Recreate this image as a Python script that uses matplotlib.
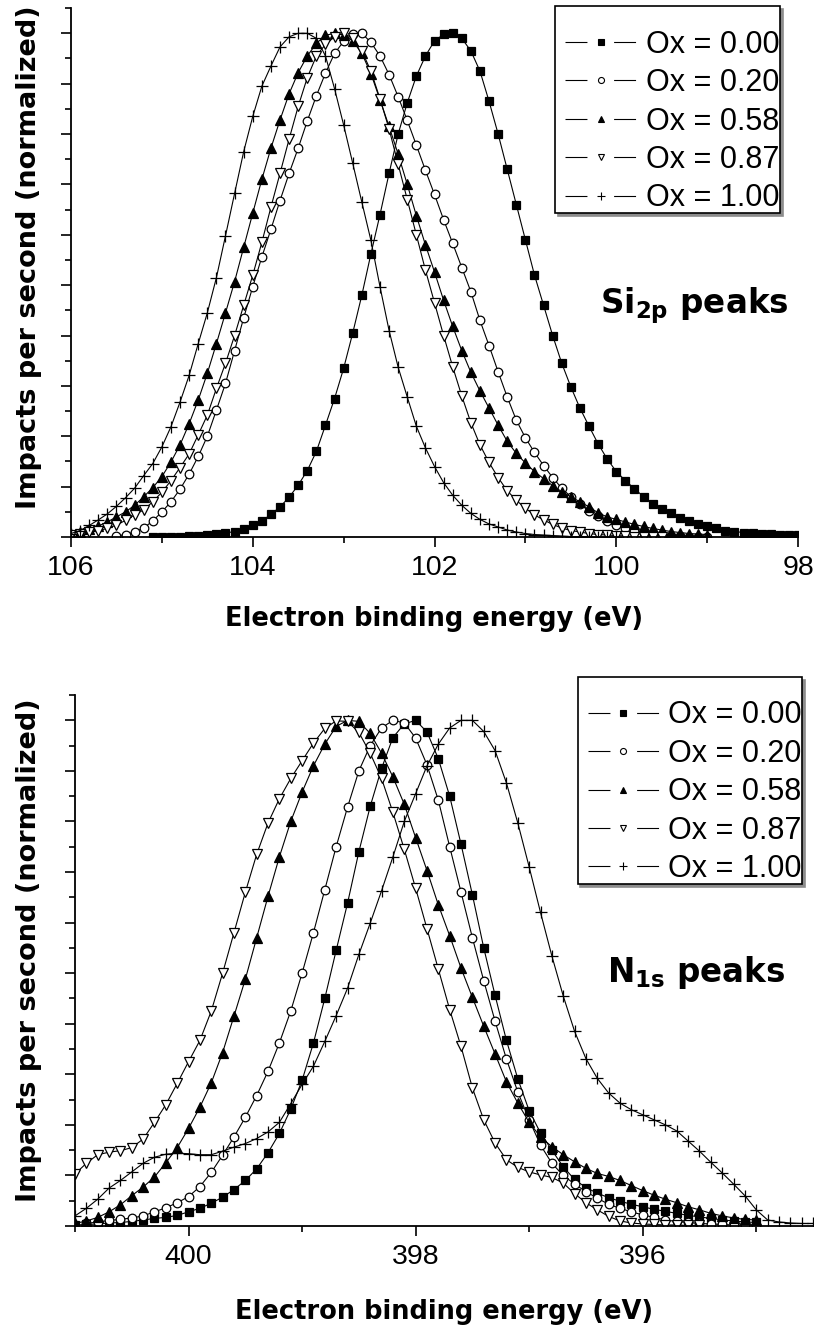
import numpy as np
import matplotlib.pyplot as plt
from matplotlib.lines import Line2D
from matplotlib.ticker import MultipleLocator

plt.rcParams['font.family'] = ['Liberation Sans', 'DejaVu Sans']
plt.rcParams['mathtext.fontset'] = 'dejavusans'

labels = ['Ox = 0.00', 'Ox = 0.20', 'Ox = 0.58', 'Ox = 0.87', 'Ox = 1.00']
markers = ['s', 'o', '^', 'v', '+']
faces = ['black', 'white', 'black', 'white', 'black']
msizes = [6, 6.2, 7, 7, 8]

# Si 2p spectra, 0.1 eV steps going down from the start energy
si_start = [105.1, 105.5, 106.0, 106.0, 106.0]
si_ox000 = [0.0, 0.0, 0.001, 0.001, 0.002, 0.003, 0.004, 0.006, 0.008, 0.011,
            0.016, 0.023, 0.032, 0.045, 0.06, 0.079, 0.103, 0.132, 0.17, 0.222,
            0.275, 0.335, 0.405, 0.48, 0.562, 0.64, 0.722, 0.8, 0.862, 0.915,
            0.955, 0.985, 0.998, 1.0, 0.99, 0.965, 0.925, 0.865, 0.80, 0.73,
            0.66, 0.59, 0.52, 0.46, 0.40, 0.345, 0.298, 0.256, 0.22, 0.185,
            0.155, 0.13, 0.112, 0.096, 0.08, 0.066, 0.056, 0.047, 0.038, 0.031,
            0.026, 0.021, 0.017, 0.013, 0.011, 0.009, 0.008, 0.007, 0.006, 0.005,
            0.004, 0.004]
si_ox020 = [0.002, 0.005, 0.01, 0.018, 0.032, 0.05, 0.07, 0.095, 0.125, 0.16,
            0.2, 0.252, 0.305, 0.37, 0.435, 0.497, 0.556, 0.611, 0.668, 0.722,
            0.772, 0.826, 0.876, 0.921, 0.96, 0.984, 0.999, 1.0, 0.982, 0.955,
            0.918, 0.874, 0.827, 0.778, 0.728, 0.68, 0.63, 0.583, 0.535, 0.487,
            0.43, 0.38, 0.328, 0.278, 0.232, 0.197, 0.168, 0.142, 0.118, 0.097,
            0.08, 0.065, 0.052, 0.041, 0.031, 0.024, 0.018, 0.013, 0.009, 0.006,
            0.004, 0.003, 0.002, 0.001, 0.001, 0.0]
si_ox058 = [0.007, 0.011, 0.016, 0.022, 0.03, 0.04, 0.05, 0.063, 0.08, 0.098,
            0.12, 0.149, 0.183, 0.225, 0.272, 0.325, 0.384, 0.445, 0.507, 0.575,
            0.643, 0.71, 0.772, 0.828, 0.88, 0.922, 0.955, 0.98, 0.996, 1.0,
            0.997, 0.985, 0.96, 0.92, 0.868, 0.815, 0.76, 0.7, 0.638, 0.58,
            0.526, 0.47, 0.418, 0.37, 0.327, 0.29, 0.256, 0.222, 0.19, 0.166,
            0.147, 0.13, 0.116, 0.102, 0.09, 0.08, 0.07, 0.06, 0.048, 0.04,
            0.035, 0.03, 0.025, 0.021, 0.017, 0.014, 0.011, 0.009, 0.007, 0.006,
            0.005]
si_ox087 = [0.004, 0.007, 0.01, 0.013, 0.017, 0.024, 0.033, 0.044, 0.054, 0.07,
            0.089, 0.112, 0.138, 0.165, 0.203, 0.242, 0.295, 0.345, 0.40, 0.46,
            0.52, 0.585, 0.655, 0.722, 0.79, 0.855, 0.912, 0.955, 0.978, 0.993,
            1.0, 0.99, 0.965, 0.925, 0.87, 0.81, 0.74, 0.67, 0.6, 0.53,
            0.465, 0.40, 0.338, 0.28, 0.227, 0.183, 0.148, 0.118, 0.092, 0.073,
            0.057, 0.044, 0.034, 0.025, 0.018, 0.013, 0.01, 0.007, 0.005, 0.004,
            0.003, 0.002, 0.001, 0.001, 0.0, 0.0]
si_ox100 = [0.007, 0.013, 0.023, 0.034, 0.046, 0.061, 0.078, 0.097, 0.122, 0.146,
            0.179, 0.219, 0.268, 0.321, 0.384, 0.445, 0.515, 0.598, 0.682, 0.765,
            0.835, 0.895, 0.935, 0.973, 0.993, 1.0, 1.0, 0.99, 0.955, 0.89,
            0.818, 0.742, 0.665, 0.589, 0.497, 0.41, 0.337, 0.278, 0.22, 0.177,
            0.14, 0.108, 0.083, 0.063, 0.047, 0.035, 0.026, 0.02, 0.014, 0.01,
            0.007, 0.005, 0.004, 0.003, 0.002, 0.001, 0.001, 0.001, 0.0, 0.0,
            0.0]

# N 1s spectra
n_start = [401.0, 400.9, 401.0, 401.0, 401.0]
n_ox000 = [0.002, 0.003, 0.004, 0.006, 0.007, 0.009, 0.012, 0.015, 0.017, 0.021,
           0.028, 0.035, 0.045, 0.057, 0.072, 0.09, 0.113, 0.145, 0.183, 0.231,
           0.288, 0.362, 0.45, 0.545, 0.638, 0.74, 0.83, 0.905, 0.966, 0.993,
           1.0, 0.977, 0.924, 0.85, 0.755, 0.655, 0.55, 0.456, 0.367, 0.291,
           0.228, 0.184, 0.15, 0.117, 0.092, 0.076, 0.065, 0.056, 0.049, 0.043,
           0.038, 0.033, 0.029, 0.025, 0.021, 0.018, 0.015, 0.012, 0.01, 0.008,
           0.007]
n_ox020 = [0.005, 0.008, 0.011, 0.013, 0.016, 0.02, 0.028, 0.036, 0.046,
           0.058, 0.078, 0.106, 0.14, 0.176, 0.215, 0.258, 0.306, 0.362, 0.425,
           0.5, 0.58, 0.665, 0.75, 0.828, 0.9, 0.95, 0.985, 1.0, 0.995,
           0.965, 0.912, 0.842, 0.75, 0.66, 0.57, 0.485, 0.405, 0.33, 0.265,
           0.21, 0.16, 0.124, 0.1, 0.083, 0.068, 0.055, 0.043, 0.035, 0.028,
           0.022, 0.017, 0.012, 0.009, 0.007, 0.005, 0.004, 0.003, 0.002, 0.002,
           0.002]
n_ox058 = [0.005, 0.01, 0.017, 0.028, 0.042, 0.06, 0.077, 0.097, 0.125, 0.155,
           0.193, 0.235, 0.283, 0.343, 0.415, 0.488, 0.57, 0.652, 0.73, 0.8,
           0.858, 0.91, 0.953, 0.988, 1.0, 0.998, 0.974, 0.935, 0.888, 0.834,
           0.768, 0.703, 0.635, 0.574, 0.51, 0.452, 0.395, 0.34, 0.285, 0.243,
           0.205, 0.176, 0.157, 0.141, 0.127, 0.114, 0.104, 0.098, 0.09, 0.08,
           0.07, 0.061, 0.053, 0.046, 0.038, 0.032, 0.025, 0.02, 0.016, 0.013,
           0.012]
n_ox087 = [0.103, 0.124, 0.141, 0.146, 0.149, 0.155, 0.172, 0.205, 0.24, 0.282,
           0.325, 0.367, 0.425, 0.5, 0.58, 0.66, 0.735, 0.797, 0.845, 0.885,
           0.92, 0.955, 0.984, 0.999, 0.998, 0.976, 0.935, 0.885, 0.818, 0.745,
           0.668, 0.588, 0.508, 0.428, 0.355, 0.273, 0.21, 0.164, 0.131, 0.116,
           0.107, 0.101, 0.096, 0.085, 0.064, 0.046, 0.032, 0.019, 0.01, 0.006,
           0.004, 0.003, 0.002, 0.002, 0.001, 0.001]
n_ox100 = [0.02, 0.035, 0.053, 0.075, 0.09, 0.107, 0.124, 0.136, 0.142, 0.144,
           0.143, 0.141, 0.141, 0.148, 0.156, 0.163, 0.173, 0.186, 0.205, 0.242,
           0.28, 0.316, 0.365, 0.416, 0.47, 0.537, 0.599, 0.663, 0.73, 0.8,
           0.855, 0.91, 0.953, 0.985, 1.0, 1.0, 0.978, 0.94, 0.876, 0.797,
           0.71, 0.62, 0.534, 0.455, 0.385, 0.331, 0.292, 0.263, 0.243, 0.23,
           0.22, 0.21, 0.2, 0.188, 0.168, 0.148, 0.126, 0.105, 0.083, 0.06,
           0.032, 0.012, 0.008, 0.006, 0.005, 0.005]

si_series = [si_ox000, si_ox020, si_ox058, si_ox087, si_ox100]
n_series = [n_ox000, n_ox020, n_ox058, n_ox087, n_ox100]

LEG_FS = 22


def draw_panel(ax, starts, series, xlim, labelpad):
    for i in range(5):
        vals = np.array(series[i])
        e = starts[i] - 0.1 * np.arange(len(vals))
        ax.plot(e, vals, color='black', lw=0.8, marker=markers[i],
                ms=msizes[i], mfc=faces[i], mec='black', mew=0.9)
    ax.set_xlim(xlim)
    ax.set_ylim(0, 1.05)
    ax.xaxis.set_major_locator(MultipleLocator(2))
    ax.xaxis.set_minor_locator(MultipleLocator(1))
    ax.yaxis.set_major_locator(MultipleLocator(0.1))
    ax.yaxis.set_minor_locator(MultipleLocator(0.05))
    ax.set_yticklabels([])
    ax.spines['top'].set_visible(False)
    ax.spines['right'].set_visible(False)
    for s in ['left', 'bottom']:
        ax.spines[s].set_linewidth(1.3)
    ax.tick_params(which='major', direction='out', length=7, width=1.2,
                   labelsize=20.5, pad=6)
    ax.tick_params(which='minor', direction='out', length=4, width=1.2)
    ax.set_xlabel('Electron binding energy (eV)', fontsize=18.5,
                  fontweight='bold', family='DejaVu Sans', labelpad=labelpad)
    ax.set_ylabel('Impacts per second (normalized)', fontsize=19.5,
                  fontweight='bold', family='DejaVu Sans')

    # legend keys: pad - line - gap - marker - gap - line - pad
    # (dash lengths are in units of the 0.8 line width)
    handles = [Line2D([], [], color='black', lw=0.8,
                      linestyle=(72.5, (19.75, 24.0, 19.75, 18.0)),
                      marker=markers[i], ms=msizes[i] * 0.7,
                      mfc=faces[i], mec='black', mew=0.8)
               for i in range(5)]
    leg = ax.legend(handles, labels, loc='lower right', fontsize=LEG_FS,
                    frameon=True, fancybox=False, edgecolor='black',
                    framealpha=1, shadow={'color': '0.55', 'alpha': 1},
                    handlelength=2.97, handletextpad=0.0, labelspacing=0.275,
                    borderpad=0.0, borderaxespad=0, title=' ',
                    title_fontsize=12)
    leg.get_frame().set_linewidth(1.2)
    return leg


fig = plt.figure(figsize=(8.18, 13.29), dpi=100)
ax1 = fig.add_axes([0.0868, 0.5959, 0.8888, 0.398])
ax2 = fig.add_axes([0.0917, 0.0775, 0.9022, 0.3995])

leg1 = draw_panel(ax1, si_start, si_series, (106, 98), 18)
leg1.set_bbox_to_anchor((0.975, 0.612), transform=ax1.transAxes)
ax1.yaxis.set_label_coords(-0.04, 0.53)
ax1.text(0.728, 0.4234, r'Si$_{\mathbf{2p}}$ peaks', transform=ax1.transAxes,
         fontsize=23.5, fontweight='bold', family='DejaVu Sans',
         ha='left', va='baseline')

leg2 = draw_panel(ax2, n_start, n_series, (401, 394.5), 21)
leg2.set_bbox_to_anchor((0.985, 0.644), transform=ax2.transAxes)
ax2.yaxis.set_label_coords(-0.045, 0.52)
ax2.text(0.721, 0.4595, r'N$_{\mathbf{1s}}$ peaks', transform=ax2.transAxes,
         fontsize=23.5, fontweight='bold', family='DejaVu Sans',
         ha='left', va='baseline')

fig.savefig('out.png', dpi=100)
